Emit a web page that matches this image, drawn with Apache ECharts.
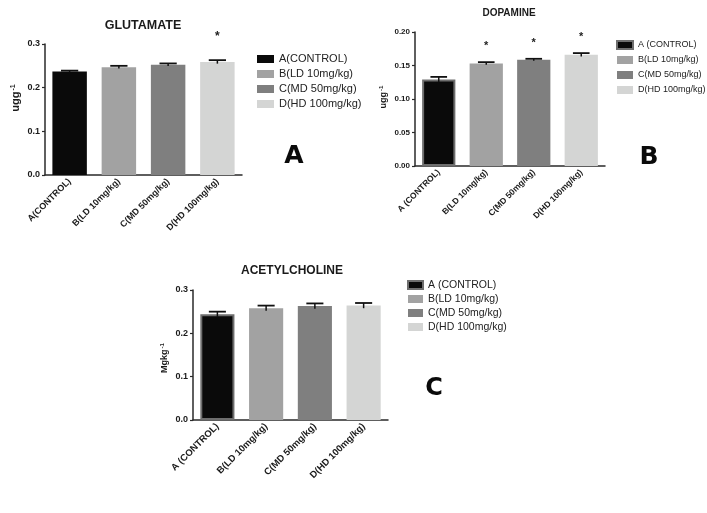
<!DOCTYPE html>
<html><head><meta charset="utf-8">
<script src="https://cdn.jsdelivr.net/npm/echarts@6/dist/echarts.min.js"></script>
<style>html,body{margin:0;padding:0;background:#fff}#c{width:707px;height:513px}</style>
</head><body><div id="c"></div>
<script>
// ---- data ----
const groupsA = ['A(CONTROL)', 'B(LD 10mg/kg)', 'C(MD 50mg/kg)', 'D(HD 100mg/kg)'];
const groupsBC = ['A (CONTROL)', 'B(LD 10mg/kg)', 'C(MD 50mg/kg)', 'D(HD 100mg/kg)'];

const glutamateMean = [0.237, 0.247, 0.2525, 0.259];
const glutamateErr  = [0.002, 0.003, 0.003, 0.004];
const glutamateSig  = ['', '', '', '*'];

const dopamineMean = [0.129, 0.153, 0.1585, 0.166];
const dopamineErr  = [0.004, 0.002, 0.0015, 0.0025];
const dopamineSig  = ['', '*', '*', '*'];

const achMean = [0.244, 0.258, 0.263, 0.264];
const achErr  = [0.006, 0.006, 0.006, 0.006];
const achSig  = ['', '', '', ''];

const ticksA = [0, 0.1, 0.2, 0.3];
const ticksB = [0, 0.05, 0.10, 0.15, 0.20];
const ticksC = [0, 0.1, 0.2, 0.3];

// ---- styling ----
const FONT = "'Liberation Sans', Arial, sans-serif";
const colors = ['#0a0a0a', '#a2a2a2', '#7f7f7f', '#d4d5d4'];
const axisCol = '#2a2a2a';

const panels = [
  {groups: groupsA, mean: glutamateMean, err: glutamateErr, sig: glutamateSig, ticks: ticksA,
   grid: {left: 45, top: 44, width: 197, height: 131}, dec: 1, yFont: 9, xFont: 9,
   yName: 'ugg', yNameSize: 11, yNameGap: 23, yNameShift: 23, starDy: 23, starSize: 12, aBorder: false},
  {groups: groupsBC, mean: dopamineMean, err: dopamineErr, sig: dopamineSig, ticks: ticksB,
   grid: {left: 415, top: 32, width: 190, height: 134}, dec: 2, yFont: 8, xFont: 8.5,
   yName: 'ugg', yNameSize: 9, yNameGap: 26, yNameShift: 4, starDy: 16, starSize: 11, aBorder: true},
  {groups: groupsBC, mean: achMean, err: achErr, sig: achSig, ticks: ticksC,
   grid: {left: 193, top: 290, width: 195, height: 130}, dec: 1, yFont: 9, xFont: 9.5,
   yName: 'Mgkg', yNameSize: 9, yNameGap: 23, yNameShift: -6, starDy: 16, starSize: 11, aBorder: true}
];

const grids = [], xAxes = [], yAxes = [], series = [];
panels.forEach((p, pi) => {
  grids.push(Object.assign({containLabel: false}, p.grid));
  xAxes.push({
    type: 'category', gridIndex: pi, data: p.groups,
    axisLine: {lineStyle: {color: axisCol, width: 1.5}},
    axisTick: {alignWithLabel: true, length: 3, lineStyle: {color: axisCol, width: 1.2}},
    axisLabel: {rotate: 45, margin: 5, fontFamily: FONT, fontWeight: 'bold', fontSize: p.xFont, color: '#1a1a1a', interval: 0}
  });
  const tmax = p.ticks[p.ticks.length - 1];
  const step = p.ticks[1] - p.ticks[0];
  yAxes.push({
    type: 'value', gridIndex: pi, min: p.ticks[0], max: tmax, interval: step,
    splitLine: {show: false},
    axisLine: {show: true, lineStyle: {color: axisCol, width: 1.5}},
    axisTick: {show: true, length: 3, lineStyle: {color: axisCol, width: 1.2}},
    axisLabel: {margin: 5, fontFamily: FONT, fontWeight: 'bold', fontSize: p.yFont, color: '#1a1a1a',
      formatter: v => v.toFixed(p.dec)},
    name: '{a|' + p.yName + '}{b|-1}', nameLocation: 'middle', nameGap: p.yNameGap, nameRotate: 90,
    nameTextStyle: {
      padding: p.yNameShift >= 0 ? [0, 0, 0, p.yNameShift] : [0, -p.yNameShift, 0, 0],
      rich: {
        a: {fontFamily: FONT, fontWeight: 'bold', fontSize: p.yNameSize, color: '#1a1a1a'},
        b: {fontFamily: FONT, fontWeight: 'bold', fontSize: Math.round(p.yNameSize * 0.65), color: '#1a1a1a', verticalAlign: 'top', padding: [0, 0, p.yNameSize * 0.5, 1]}
      }
    }
  });
  p.groups.forEach((name, k) => {
    const isA = (k === 0 && p.aBorder);
    series.push({
      type: 'bar', name: name, xAxisIndex: pi, yAxisIndex: pi,
      barWidth: '70%', barGap: '-100%',
      data: p.mean.map((v, i) => i === k ? v : '-'),
      itemStyle: {color: colors[k], borderColor: isA ? '#6e6e6e' : colors[k], borderWidth: isA ? 2 : 0},
      z: 2
    });
  });
  series.push({
    type: 'custom', xAxisIndex: pi, yAxisIndex: pi, z: 5,
    encode: {x: 0, y: 1},
    data: p.mean.map((m, i) => [i, m, p.err[i]]),
    renderItem: function (params, api) {
      const i = api.value(0), m = api.value(1), e = api.value(2);
      const top = api.coord([i, m + e]);
      const bot = api.coord([i, m - e]);
      const bw = api.size([1, 0])[0];
      const half = bw * 0.7 * 0.25;
      const ch = [
        {type: 'line', shape: {x1: top[0], y1: top[1], x2: bot[0], y2: bot[1]}, style: {stroke: '#111', lineWidth: 1.5}},
        {type: 'line', shape: {x1: top[0] - half, y1: top[1], x2: top[0] + half, y2: top[1]}, style: {stroke: '#111', lineWidth: 1.8}}
      ];
      const s = p.sig[params.dataIndex];
      if (s) ch.push({type: 'text', x: top[0], y: top[1] - p.starDy,
        style: {text: s, fill: '#222', font: 'bold ' + p.starSize + 'px ' + FONT, align: 'center', verticalAlign: 'middle'}});
      return {type: 'group', children: ch};
    }
  });
});

const legendBase = {orient: 'vertical', icon: 'rect', selectedMode: false, align: 'left'};
const titleFont = (size) => ({fontFamily: FONT, fontWeight: 'bold', fontSize: size, color: '#1a1a1a'});
const letterFont = (size) => ({fontFamily: "'DejaVu Sans', sans-serif", fontWeight: 'bold', fontSize: size, color: '#0a0a0a'});
const option = {
  backgroundColor: '#fff',
  animation: false,
  title: [
    {text: 'GLUTAMATE', left: 143, top: 19, padding: 0, textAlign: 'center', textStyle: titleFont(12.5)},
    {text: 'DOPAMINE', left: 509, top: 8, padding: 0, textAlign: 'center', textStyle: titleFont(10)},
    {text: 'ACETYLCHOLINE', left: 292, top: 265, padding: 0, textAlign: 'center', textStyle: titleFont(12)},
    {text: 'A', left: 294, top: 144, padding: 0, textAlign: 'center', textStyle: letterFont(25)},
    {text: 'B', left: 649, top: 145, padding: 0, textAlign: 'center', textStyle: letterFont(25)},
    {text: 'C', left: 434, top: 377, padding: 0, textAlign: 'center', textStyle: letterFont(24)}
  ],
  legend: [
    Object.assign({}, legendBase, {data: groupsA, left: 252, top: 48, itemWidth: 17, itemHeight: 8, itemGap: 3,
      textStyle: {fontFamily: FONT, fontSize: 11, lineHeight: 12, color: '#222'}}),
    Object.assign({}, legendBase, {data: groupsBC, left: 611, top: 34, itemWidth: 16, itemHeight: 8, itemGap: 3,
      textStyle: {fontFamily: FONT, fontSize: 9, lineHeight: 12, color: '#222'}}),
    Object.assign({}, legendBase, {data: groupsBC, left: 402, top: 274, itemWidth: 15, itemHeight: 8, itemGap: 2,
      textStyle: {fontFamily: FONT, fontSize: 10.5, lineHeight: 12, color: '#222'}})
  ],
  grid: grids, xAxis: xAxes, yAxis: yAxes, series: series
};
const chart = echarts.init(document.getElementById('c'), null, {renderer: 'canvas'});
chart.setOption(option);
</script>
</body></html>
